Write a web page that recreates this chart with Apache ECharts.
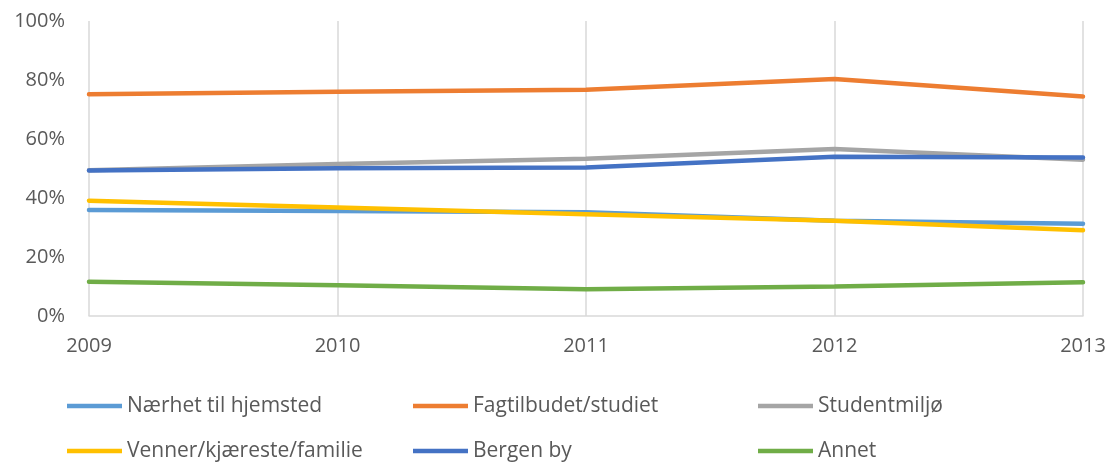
<!DOCTYPE html>
<html>
<head>
<meta charset="utf-8">
<script src="https://cdn.jsdelivr.net/npm/echarts@6/dist/echarts.min.js"></script>
<style>html,body{margin:0;padding:0;background:#fff}#c{width:1111px;height:465px}</style>
</head>
<body>
<div id="c"></div>
<script>
const years = ['2009', '2010', '2011', '2012', '2013'];
const seriesNames = ['Nærhet til hjemsted', 'Fagtilbudet/studiet', 'Studentmiljø', 'Venner/kjæreste/familie', 'Bergen by', 'Annet'];
const naerhet = [35.9, 35.6, 35.2, 32.3, 31.3];
const fagtilbud = [75.2, 76.0, 76.7, 80.3, 74.4];
const studentmiljo = [49.4, 51.5, 53.3, 56.6, 53.0];
const venner = [39.1, 36.8, 34.5, 32.3, 29.1];
const bergen = [49.3, 50.1, 50.3, 54.0, 53.7];
const annet = [11.6, 10.4, 9.1, 10.0, 11.4];
const yTicks = [0, 20, 40, 60, 80, 100];

const values = [naerhet, fagtilbud, studentmiljo, venner, bergen, annet];
const colors = ['#5B9BD5', '#ED7D31', '#A5A5A5', '#FFC000', '#4472C4', '#70AD47'];
const font = "'Open Sans', sans-serif";
const legendPos = [[67, 394], [413, 394], [758, 394], [67, 439], [413, 439], [758, 439]];

const chart = echarts.init(document.getElementById('c'), null, {renderer: 'canvas'});
chart.setOption({
  animation: false,
  color: colors,
  grid: {left: 89, right: 28, top: 21, bottom: 149, containLabel: false},
  legend: seriesNames.map((n, i) => ({
    data: [n], left: legendPos[i][0], top: legendPos[i][1], padding: 0,
    icon: 'rect', itemWidth: 55, itemHeight: 4.5, itemGap: 4,
    textStyle: {color: '#595959', fontSize: 21, lineHeight: 24, fontFamily: font}
  })),
  xAxis: {
    type: 'category', data: years, boundaryGap: false,
    axisLine: {show: true, lineStyle: {color: '#d9d9d9', width: 1.5}},
    axisTick: {show: false},
    splitLine: {show: true, lineStyle: {color: '#d9d9d9', width: 1.5}},
    axisLabel: {color: '#595959', fontSize: 20, fontFamily: font, margin: 20}
  },
  yAxis: {
    type: 'value', min: yTicks[0], max: yTicks[yTicks.length - 1], interval: 20,
    axisLine: {show: false}, axisTick: {show: false}, splitLine: {show: false},
    axisLabel: {color: '#595959', fontSize: 20, fontFamily: font, margin: 24, formatter: '{value}%'}
  },
  series: seriesNames.map((n, i) => ({
    name: n, type: 'line', data: values[i], symbol: 'none',
    lineStyle: {width: 4.5, color: colors[i], cap: 'round'}
  }))
});
</script>
</body>
</html>
